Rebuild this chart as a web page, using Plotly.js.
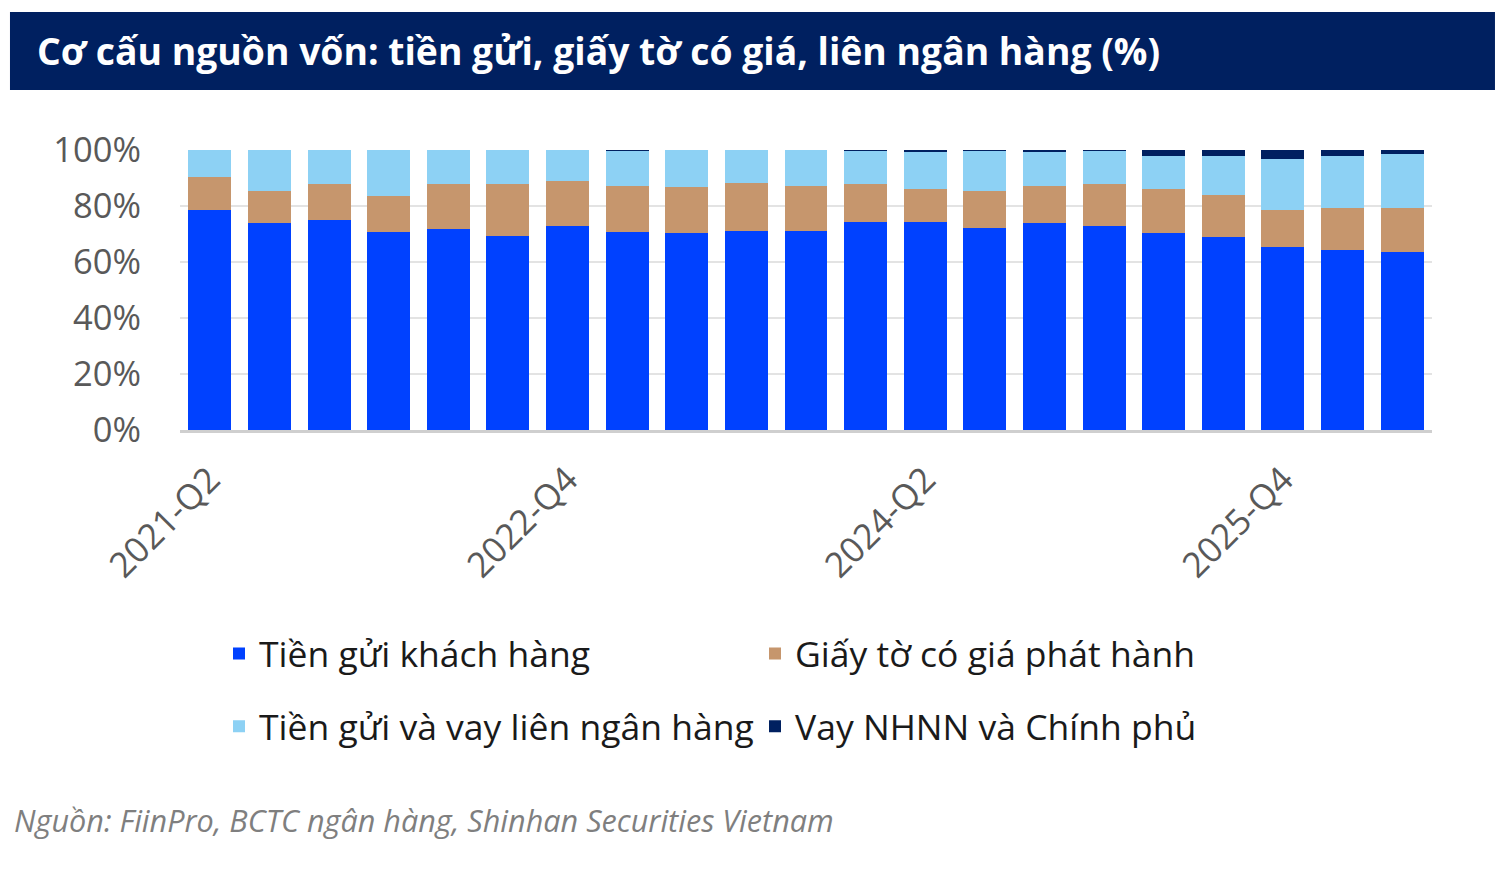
<!DOCTYPE html>
<html>
<head>
<meta charset="utf-8">
<script src="https://cdn.plot.ly/plotly-3.0.1.min.js"></script>
<style>html,body{margin:0;padding:0;background:#fff;}#chart{width:1500px;height:883px;}</style>
</head>
<body>
<div id="chart"></div>
<script>
const categories = ["2021-Q2","2021-Q3","2021-Q4","2022-Q1","2022-Q2","2022-Q3","2022-Q4","2023-Q1","2023-Q2","2023-Q3","2023-Q4","2024-Q1","2024-Q2","2024-Q3","2024-Q4","2025-Q1","2025-Q2","2025-Q3","2025-Q4","2026-Q1","2026-Q2"];
const tickLabels = ["2021-Q2","2022-Q4","2024-Q2","2025-Q4"];
const customerDeposits = [78.5,73.8,74.9,70.6,71.7,69.4,73.0,70.6,70.2,71.2,71.2,74.4,74.4,72.0,73.8,73.0,70.4,69.0,65.2,64.3,63.5];
const valuablePapers   = [12.0,11.6,13.1,13.0,16.3,18.6,15.8,16.4,16.5,17.0,15.8,13.6,11.7,13.4,13.5,15.0,15.7,15.0,13.4,14.9,15.7];
const interbank        = [9.5,14.6,12.0,16.4,12.0,12.0,11.2,12.6,13.3,11.8,13.0,11.6,13.3,14.1,12.1,11.5,11.8,13.9,18.1,18.7,19.3];
const sbvGovLoans      = [0,0,0,0,0,0,0,0.4,0,0,0,0.4,0.6,0.5,0.6,0.5,2.1,2.1,3.3,2.1,1.5];
const seriesNames = ["Tiền gửi khách hàng","Giấy tờ có giá phát hành","Tiền gửi và vay liên ngân hàng","Vay NHNN và Chính phủ"];
const titleText = "Cơ cấu nguồn vốn: tiền gửi, giấy tờ có giá, liên ngân hàng (%)";
const sourceText = "Nguồn: FiinPro, BCTC ngân hàng, Shinhan Securities Vietnam";

const colors = ["#0041FF","#C6966D","#8DD1F4","#002060"];
const values = [customerDeposits, valuablePapers, interbank, sbvGovLoans];
const legendIds = ["legend","legend","legend2","legend2"];

const traces = values.map((v,i)=>({
  type:"bar", x:categories, y:v, name:seriesNames[i],
  marker:{color:colors[i], line:{width:0}},
  legend:legendIds[i], hoverinfo:"x+y+name"
}));

const tickIdx = [0,6,12,18];
const F = "Open Sans, Noto Sans, sans-serif";
const legendFont = {family:F, size:35.5, color:"#1a1a1a"};
const layout = {
  width:1500, height:883, autosize:false,
  paper_bgcolor:"#ffffff", plot_bgcolor:"#ffffff",
  margin:{l:180, r:68, t:150, b:453},
  barmode:"stack", bargap:0.28,
  font:{family:F, color:"#595959"},
  title:{text:titleText, font:{family:F, size:37.3, color:"#ffffff", weight:700},
         xref:"container", yref:"container", x:0.0247, xanchor:"left", y:0.941, yanchor:"middle"},
  xaxis:{type:"category", tickmode:"array", tickvals:tickIdx.map(i=>categories[i]), ticktext:tickLabels,
         tickangle:-45, ticks:"", showgrid:false, showline:true, linecolor:"#cfcfcf", linewidth:3,
         tickfont:{family:F, size:35, color:"#595959"}, ticklabelstandoff:12, fixedrange:true},
  yaxis:{range:[0,100], tickmode:"linear", tick0:0, dtick:20, ticksuffix:"%", showticksuffix:"all",
         showgrid:true, gridcolor:"#e3e3e3", gridwidth:1.5,
         zeroline:false, ticks:"", tickfont:{family:F, size:34.5, color:"#595959"}, ticklabelstandoff:38, fixedrange:true},
  showlegend:true,
  legend:{orientation:"h", xref:"container", yref:"container", x:0.146, xanchor:"left", y:0.2935, yanchor:"top",
          entrywidth:491, entrywidthmode:"pixels", font:legendFont, traceorder:"normal", bgcolor:"rgba(0,0,0,0)"},
  legend2:{orientation:"h", xref:"container", yref:"container", x:0.146, xanchor:"left", y:0.211, yanchor:"top",
          entrywidth:491, entrywidthmode:"pixels", font:legendFont, traceorder:"normal", bgcolor:"rgba(0,0,0,0)"},
  shapes:[{type:"rect", xref:"paper", yref:"paper", x0:-0.1358, x1:1.0503, y0:1.2143, y1:1.4929,
           fillcolor:"#002060", line:{width:0}, layer:"below"}],
  annotations:[{text:sourceText, xref:"paper", yref:"paper", x:-0.1342, xanchor:"left", y:-1.393, yanchor:"middle",
                showarrow:false, font:{family:F, size:30.6, color:"#7f7f7f", style:"italic"}}]
};
Plotly.newPlot("chart", traces, layout, {displayModeBar:false, staticPlot:true});
</script>
</body>
</html>
